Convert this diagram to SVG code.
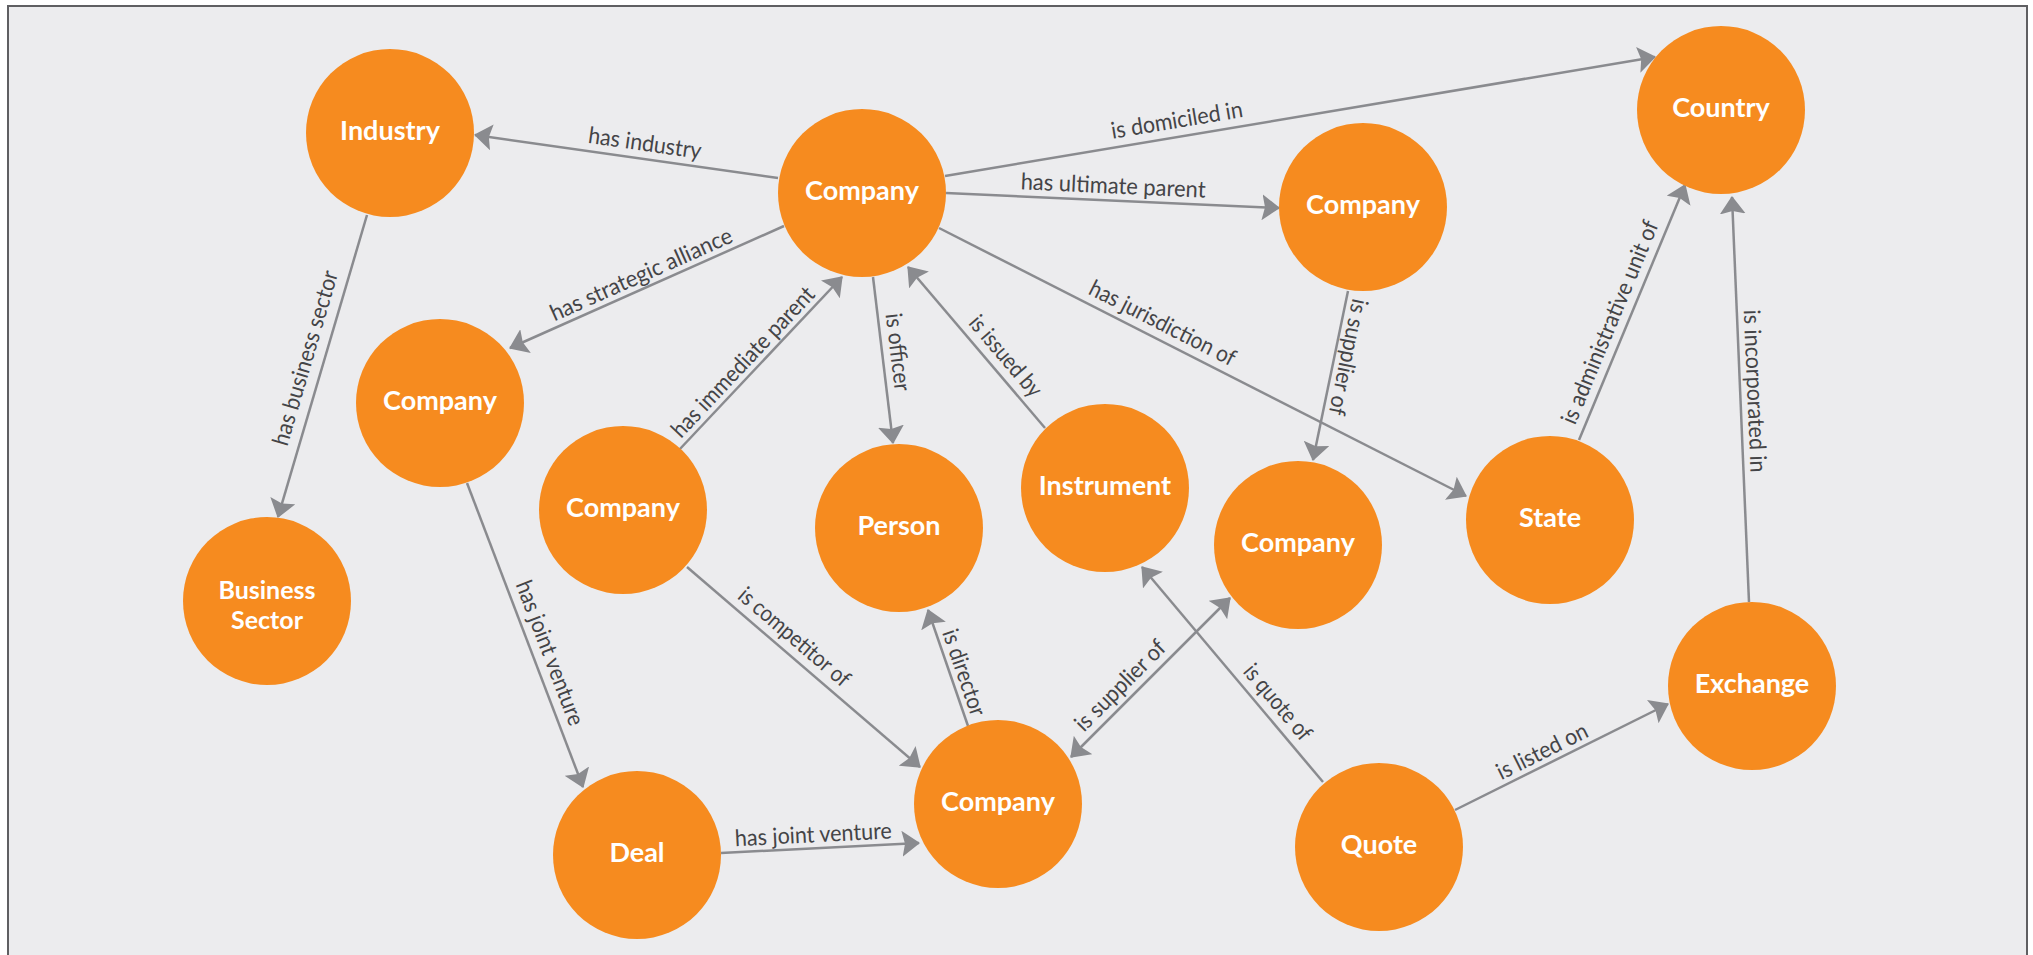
<svg xmlns="http://www.w3.org/2000/svg" width="2033" height="955" viewBox="0 0 2033 955">
<style>
.node circle{fill:#F68B1F}
.node text{font-family:Lato,"Liberation Sans",sans-serif;font-weight:700;font-size:27px;fill:#ffffff;text-anchor:middle}
.node text.two{font-size:25px}
.edge{stroke:#8A8B8F;stroke-width:2.5;fill:none}
.lbl{font-family:Lato,"Liberation Sans",sans-serif;font-size:23px;fill:#444447;text-anchor:middle}
</style>
<defs>
<marker id="arr" markerUnits="userSpaceOnUse" markerWidth="18" markerHeight="26" viewBox="0 0 18 26" refX="17" refY="13" orient="auto-start-reverse">
<path d="M0,0 L18,13 L0,26 L3,13 Z" fill="#8A8B8F"/>
</marker>
</defs>
<rect x="0" y="0" width="2033" height="955" fill="#ffffff"/>
<rect x="8" y="6" width="2019" height="970" fill="#ECECEE" stroke="#5F5F62" stroke-width="2"/>
<g id="connectors">
<line class="edge" x1="778" y1="178" x2="475" y2="135" marker-end="url(#arr)"/>
<line class="edge" x1="945" y1="176" x2="1655" y2="57" marker-end="url(#arr)"/>
<line class="edge" x1="946" y1="193" x2="1279" y2="208" marker-end="url(#arr)"/>
<line class="edge" x1="784" y1="226" x2="510" y2="348" marker-end="url(#arr)"/>
<line class="edge" x1="367" y1="215" x2="278" y2="517" marker-end="url(#arr)"/>
<line class="edge" x1="873" y1="277" x2="893" y2="443" marker-end="url(#arr)"/>
<line class="edge" x1="1045" y1="428" x2="908" y2="267" marker-end="url(#arr)"/>
<line class="edge" x1="679" y1="450" x2="842" y2="277" marker-end="url(#arr)"/>
<line class="edge" x1="939" y1="228" x2="1466" y2="496" marker-end="url(#arr)"/>
<line class="edge" x1="1348" y1="291" x2="1313" y2="460" marker-end="url(#arr)"/>
<line class="edge" x1="1579" y1="440" x2="1685" y2="185" marker-end="url(#arr)"/>
<line class="edge" x1="1749" y1="602" x2="1732" y2="197" marker-end="url(#arr)"/>
<line class="edge" x1="467" y1="483" x2="583" y2="787" marker-end="url(#arr)"/>
<line class="edge" x1="687" y1="567" x2="920" y2="767" marker-end="url(#arr)"/>
<line class="edge" x1="968" y1="726" x2="928" y2="610" marker-end="url(#arr)"/>
<line class="edge" x1="1071" y1="757" x2="1230" y2="598" marker-start="url(#arr)" marker-end="url(#arr)"/>
<line class="edge" x1="1323" y1="782" x2="1142" y2="567" marker-end="url(#arr)"/>
<line class="edge" x1="721" y1="853" x2="919" y2="843" marker-end="url(#arr)"/>
<line class="edge" x1="1455" y1="810" x2="1668" y2="704" marker-end="url(#arr)"/>
<text class="lbl" transform="translate(642.7,158.8) rotate(8.1)" y="-8" textLength="114" lengthAdjust="spacingAndGlyphs">has industry</text>
<text class="lbl" transform="translate(1179.6,136.7) rotate(-9.5)" y="-9" textLength="133" lengthAdjust="spacingAndGlyphs">is domiciled in</text>
<text class="lbl" transform="translate(1112.5,200.5) rotate(2.6)" y="-7" textLength="185" lengthAdjust="spacingAndGlyphs">has ultimate parent</text>
<text class="lbl" transform="translate(646.8,287) rotate(-24)" y="-6" textLength="197" lengthAdjust="spacingAndGlyphs">has strategic alliance</text>
<text class="lbl" transform="translate(323.3,363.2) rotate(-73.6)" y="-11" textLength="181" lengthAdjust="spacingAndGlyphs">has business sector</text>
<text class="lbl" transform="translate(882.3,354) rotate(83.1)" y="-8" textLength="78" lengthAdjust="spacingAndGlyphs">is officer</text>
<text class="lbl" transform="translate(993,367) rotate(49.6)" y="-9" textLength="99" lengthAdjust="spacingAndGlyphs">is issued by</text>
<text class="lbl" transform="translate(753,371.4) rotate(-46.7)" y="-6" textLength="197" lengthAdjust="spacingAndGlyphs">has immediate parent</text>
<text class="lbl" transform="translate(1155,338) rotate(27)" y="-9" textLength="161" lengthAdjust="spacingAndGlyphs">has jurisdiction of</text>
<text class="lbl" transform="translate(1334.8,354.4) rotate(101.7)" y="-6" textLength="118" lengthAdjust="spacingAndGlyphs">is supplier of</text>
<text class="lbl" transform="translate(1625.3,328.7) rotate(-67.4)" y="-9" textLength="218" lengthAdjust="spacingAndGlyphs">is administrative unit of</text>
<text class="lbl" transform="translate(1740.2,391.6) rotate(87.6)" y="-7" textLength="163" lengthAdjust="spacingAndGlyphs">is incorporated in</text>
<text class="lbl" transform="translate(534.3,659) rotate(69.1)" y="-9" textLength="153" lengthAdjust="spacingAndGlyphs">has joint venture</text>
<text class="lbl" transform="translate(783.5,649.8) rotate(40.6)" y="-9" textLength="139" lengthAdjust="spacingAndGlyphs">is competitor of</text>
<text class="lbl" transform="translate(951.1,677.1) rotate(71)" y="-6" textLength="90" lengthAdjust="spacingAndGlyphs">is director</text>
<text class="lbl" transform="translate(1131.3,696.7) rotate(-45)" y="-8" textLength="118" lengthAdjust="spacingAndGlyphs">is supplier of</text>
<text class="lbl" transform="translate(1265,713) rotate(49.9)" y="-9" textLength="92" lengthAdjust="spacingAndGlyphs">is quote of</text>
<text class="lbl" transform="translate(814,848.3) rotate(-2.9)" y="-6" textLength="157" lengthAdjust="spacingAndGlyphs">has joint venture</text>
<text class="lbl" transform="translate(1548.3,763.6) rotate(-26.5)" y="-6" textLength="99" lengthAdjust="spacingAndGlyphs">is listed on</text>
</g>
<g id="node-industry" class="node"><circle cx="390" cy="133" r="84"/><text x="390" y="139.5">Industry</text></g>
<g id="node-company-main" class="node"><circle cx="862" cy="193" r="84"/><text x="862" y="199.5">Company</text></g>
<g id="node-country" class="node"><circle cx="1721" cy="110" r="84"/><text x="1721" y="116.5">Country</text></g>
<g id="node-company-ultimate" class="node"><circle cx="1363" cy="207" r="84"/><text x="1363" y="213.5">Company</text></g>
<g id="node-company-alliance" class="node"><circle cx="440" cy="403" r="84"/><text x="440" y="409.5">Company</text></g>
<g id="node-business-sector" class="node"><circle cx="267" cy="601" r="84"/><text class="two" x="267" y="599"><tspan x="267" y="599">Business</tspan><tspan x="267" y="629">Sector</tspan></text></g>
<g id="node-company-immediate" class="node"><circle cx="623" cy="510" r="84"/><text x="623" y="516.5">Company</text></g>
<g id="node-person" class="node"><circle cx="899" cy="528" r="84"/><text x="899" y="534.5">Person</text></g>
<g id="node-instrument" class="node"><circle cx="1105" cy="488" r="84"/><text x="1105" y="494.5">Instrument</text></g>
<g id="node-company-supplier" class="node"><circle cx="1298" cy="545" r="84"/><text x="1298" y="551.5">Company</text></g>
<g id="node-state" class="node"><circle cx="1550" cy="520" r="84"/><text x="1550" y="526.5">State</text></g>
<g id="node-exchange" class="node"><circle cx="1752" cy="686" r="84"/><text x="1752" y="692.5">Exchange</text></g>
<g id="node-company-competitor" class="node"><circle cx="998" cy="804" r="84"/><text x="998" y="810.5">Company</text></g>
<g id="node-deal" class="node"><circle cx="637" cy="855" r="84"/><text x="637" y="861.5">Deal</text></g>
<g id="node-quote" class="node"><circle cx="1379" cy="847" r="84"/><text x="1379" y="853.5">Quote</text></g>
</svg>
